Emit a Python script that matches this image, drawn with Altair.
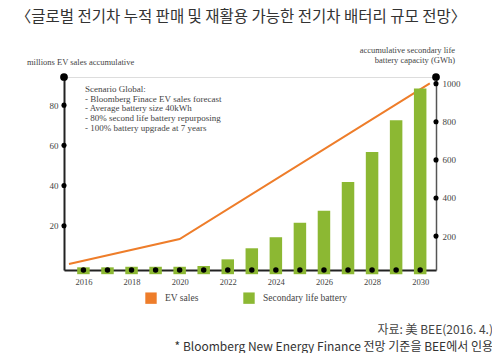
import altair as alt
import pandas as pd

# ---- data ----
years = list(range(2016, 2031))
battery_gwh = [36, 36, 39, 39, 39, 43, 78, 136, 194, 270, 333, 484, 642, 808, 974]

ev_years = [2015.4, 2020, 2030.4]
ev_sales = [1.0, 13.4, 90.8]

left_ticks = [20, 40, 60, 80]
right_ticks = [200, 400, 600, 800, 1000]
x_label_years = [2016, 2018, 2020, 2022, 2024, 2026, 2028, 2030]

series_names = ["EV sales", "Secondary life battery"]
series_colors = ["#ee7d2a", "#8cb833"]

title_text = "〈글로벌 전기차 누적 판매 및 재활용 가능한 전기차 배터리 규모 전망〉"
left_title = "millions EV sales accumulative"
right_title = ["accumulative secondary life", "battery capacity (GWh)"]
scenario_text = [
    "Scenario Global:",
    "- Bloomberg Finace EV sales forecast",
    "- Average battery size 40kWh",
    "- 80% second life battery repurposing",
    "- 100% battery upgrade at 7 years",
]
source1 = "자료: 美 BEE(2016. 4.)"
source2 = "* Bloomberg New Energy Finance 전망 기준을 BEE에서 인용"

W, H = 372, 193
SERIF = "Liberation Serif"
KR = "Noto Sans CJK KR"

bars_df = pd.DataFrame({"year": years, "gwh": battery_gwh,
                        "series": ["Secondary life battery"] * len(years)})
ev_df = pd.DataFrame({"year": ev_years, "ev": ev_sales})
lt_df = pd.DataFrame({"v": left_ticks})
rt_df = pd.DataFrame({"v": right_ticks})
yr_df = pd.DataFrame({"year": years})
one = pd.DataFrame({"a": [0]})

xscale = alt.Scale(domain=[2015.4, 2030.45], nice=False, zero=False)
xaxis = alt.Axis(values=x_label_years, format="d", title=None, grid=False,
                 ticks=False, domainColor="#222", domainWidth=2,
                 labelFont=SERIF, labelFontSize=8.5, labelColor="#444",
                 labelPadding=7)

lscale = alt.Scale(domain=[-2, 94], nice=False, zero=False)
rscale = alt.Scale(domain=[22, 1035], nice=False, zero=False)

# ---- left-scale layer ----
line = alt.Chart(ev_df).mark_line(color=series_colors[0], strokeWidth=2).encode(
    x=alt.X("year:Q", scale=xscale, axis=xaxis),
    y=alt.Y("ev:Q", scale=lscale,
            axis=alt.Axis(values=left_ticks, title=None, grid=False, ticks=False,
                          domainColor="#222", domainWidth=2, labelFont=SERIF,
                          labelFontSize=9, labelColor="#444", labelPadding=6)),
)
ldots = alt.Chart(lt_df).mark_circle(color="black", opacity=1, size=26).encode(
    x=alt.value(0), y=alt.Y("v:Q", scale=lscale))
left_layer = alt.layer(line, ldots)

# ---- right-scale layer ----
bars = alt.Chart(bars_df).mark_bar(size=12.5).encode(
    x=alt.X("year:Q", scale=xscale, axis=xaxis),
    y=alt.Y("gwh:Q", scale=rscale,
            axis=alt.Axis(orient="right", values=right_ticks, format="d", title=None,
                          grid=False, ticks=False, domainColor="#555", domainWidth=1.5,
                          labelFont=SERIF, labelFontSize=9, labelColor="#444",
                          labelPadding=6)),
    y2=alt.value(H),
    color=alt.Color("series:N",
                    scale=alt.Scale(domain=series_names, range=series_colors),
                    legend=alt.Legend(title=None, orient="none", legendX=81, legendY=215,
                                      direction="horizontal", symbolType="square",
                                      symbolSize=130, symbolStrokeWidth=0,
                                      labelFont=SERIF, labelFontSize=9.5,
                                      labelColor="#444", labelOffset=8,
                                      columnPadding=44, padding=0)),
)
rdots = alt.Chart(rt_df).mark_circle(color="black", opacity=1, size=26).encode(
    x=alt.value(W), y=alt.Y("v:Q", scale=rscale))
right_layer = alt.layer(bars, rdots)

# ---- decorations ----
xdots = alt.Chart(yr_df).mark_circle(color="black", opacity=1, size=30).encode(
    x=alt.X("year:Q", scale=xscale, axis=xaxis), y=alt.value(H))
topdots = alt.layer(
    alt.Chart(one).mark_circle(color="black", opacity=1, size=60).encode(
        x=alt.value(0), y=alt.value(0)),
    alt.Chart(one).mark_circle(color="black", opacity=1, size=60).encode(
        x=alt.value(W), y=alt.value(0)),
)

def txt(text, x, y, size, font, color="#333", align="left", baseline="middle", lh=None):
    kw = dict(text=text, align=align, baseline=baseline, fontSize=size, font=font,
              color=color)
    if lh:
        kw["lineHeight"] = lh
    return alt.Chart(one).mark_text(**kw).encode(x=alt.value(x), y=alt.value(y))

texts = alt.layer(
    txt(title_text, 177, -67.5, 15.5, KR, "#333", "center", baseline="top"),
    txt(left_title, -37, -15, 8.5, SERIF, "#444"),
    txt(right_title, 391, -27, 8.5, SERIF, "#444", "right", lh=10),
    txt(scenario_text, 21, 8, 9, SERIF, "#444", baseline="top", lh=9.7),
    txt(source1, 429, 252.5, 12, KR, "#444", "right"),
    txt(source2, 429, 269.5, 12, KR, "#333", "right"),
)

chart = alt.layer(left_layer, right_layer, xdots, topdots, texts).resolve_scale(
    y="independent"
).properties(
    width=W, height=H,
    autosize=alt.AutoSizeParams(type="none"),
    padding={"left": 56, "top": 69, "right": 56, "bottom": 83},
).configure_view(stroke=None).configure(background="white")

chart.save("out.html", embed_options={"renderer": "svg", "actions": False})
